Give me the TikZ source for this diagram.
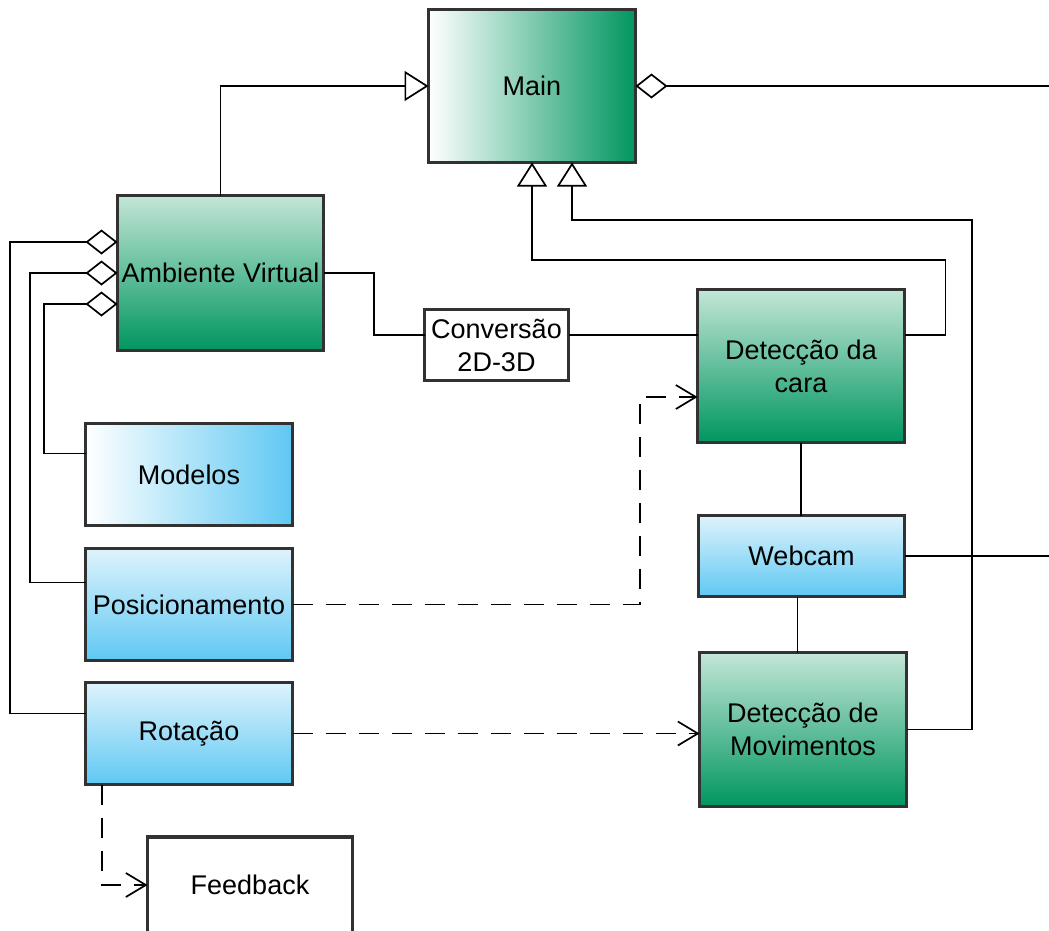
\documentclass[tikz,border=0pt]{standalone}
\usepackage{fontspec}
\setmainfont{Liberation Sans}
\usetikzlibrary{arrows.meta}
\definecolor{gdark}{RGB}{0,150,96}
\definecolor{glight}{RGB}{195,230,215}
\definecolor{bdark}{RGB}{95,200,243}
\definecolor{blight}{RGB}{222,243,252}
\definecolor{bord}{RGB}{50,50,50}
\begin{document}
\begin{tikzpicture}[x=1pt,y=-1pt,
 box/.style={draw=bord, line width=3.5pt, inner sep=0pt, outer sep=0pt, align=center, font=\fontsize{27}{33}\selectfont},
 greenv/.style={box, top color=glight, bottom color=gdark},
 greenh/.style={box, left color=white, right color=gdark},
 bluev/.style={box, top color=blight, bottom color=bdark},
 blueh/.style={box, left color=white, right color=bdark},
 plain/.style={box, fill=white},
 conn/.style={line width=1.7pt, black},
 inh/.style={conn, -{Triangle[open, length=24pt, width=30pt, fill=white]}},
 agg/.style={conn, {Diamond[open, length=32pt, width=25pt, fill=white]}-},
 dep/.style={conn, dash pattern=on 20pt off 13pt, -{Straight Barb[length=20pt, width=24pt]}},
]
\useasboundingbox (0,0) rectangle (1049,930);
\clip (0,0) rectangle (1049,930);

\node[greenh, minimum width=207pt, minimum height=153pt] (main) at (532,86) {Main};
\node[greenv, minimum width=206pt, minimum height=155pt] (amb) at (220.5,273) {Ambiente Virtual};
\node[plain, minimum width=144pt, minimum height=71pt] (conv) at (496.5,345) {Conversão\\2D-3D};
\node[greenv, minimum width=207pt, minimum height=153pt] (cara) at (801,366) {Detecção da\\cara};
\node[blueh, minimum width=207pt, minimum height=102pt] (modelos) at (189,474.5) {Modelos};
\node[bluev, minimum width=206pt, minimum height=81pt] (webcam) at (801.5,556) {Webcam};
\node[bluev, minimum width=207pt, minimum height=112pt] (posic) at (189,604.5) {Posicionamento};
\node[bluev, minimum width=207pt, minimum height=102pt] (rot) at (189,733.5) {Rotação};
\node[greenv, minimum width=207pt, minimum height=154pt] (mov) at (803,729.5) {Detecção de\\Movimentos};
\node[plain, minimum width=205pt, minimum height=96pt] (fb) at (250,885) {Feedback};

\coordinate (mainR) at (1060,86);
\coordinate (camR) at (1060,556);

\draw[inh] (amb.north) |- (main.west);
\draw[agg] (main.east) -- (mainR);
\draw[inh] ([yshift=31pt]cara.east) -- ++(41,0) |- (532,260) -- (main.south);
\draw[inh] (mov.east) -- ++(65.5,0) |- (572,220) -- ([xshift=40pt]main.south);

\draw[agg] ([yshift=31pt]amb.west) -- (10,242) |- ([yshift=20pt]rot.west);
\draw[agg] (amb.west) -- (30,273) |- ([yshift=22pt]posic.west);
\draw[agg] ([yshift=-31pt]amb.west) -- (44,304) |- ([yshift=21pt]modelos.west);

\draw[conn] (amb.east) -- (374,273) |- ([yshift=10pt]conv.west);
\draw[conn] ([yshift=10pt]conv.east) -- ([yshift=31pt]cara.west);
\draw[conn] (cara.south) -- (cara.south |- webcam.north);
\draw[conn] ([xshift=-4pt]webcam.south) -- ([xshift=-4pt]webcam.south |- mov.north);
\draw[conn] (webcam.east) -- (camR);

\draw[dep] (posic.east) -- (640,604.5) |- ([yshift=-31pt]cara.west);
\draw[dep] (rot.east) -- (rot.east -| mov.west);
\draw[dep] ([xshift=-87pt]rot.south) |- (fb.west);
\end{tikzpicture}
\end{document}
